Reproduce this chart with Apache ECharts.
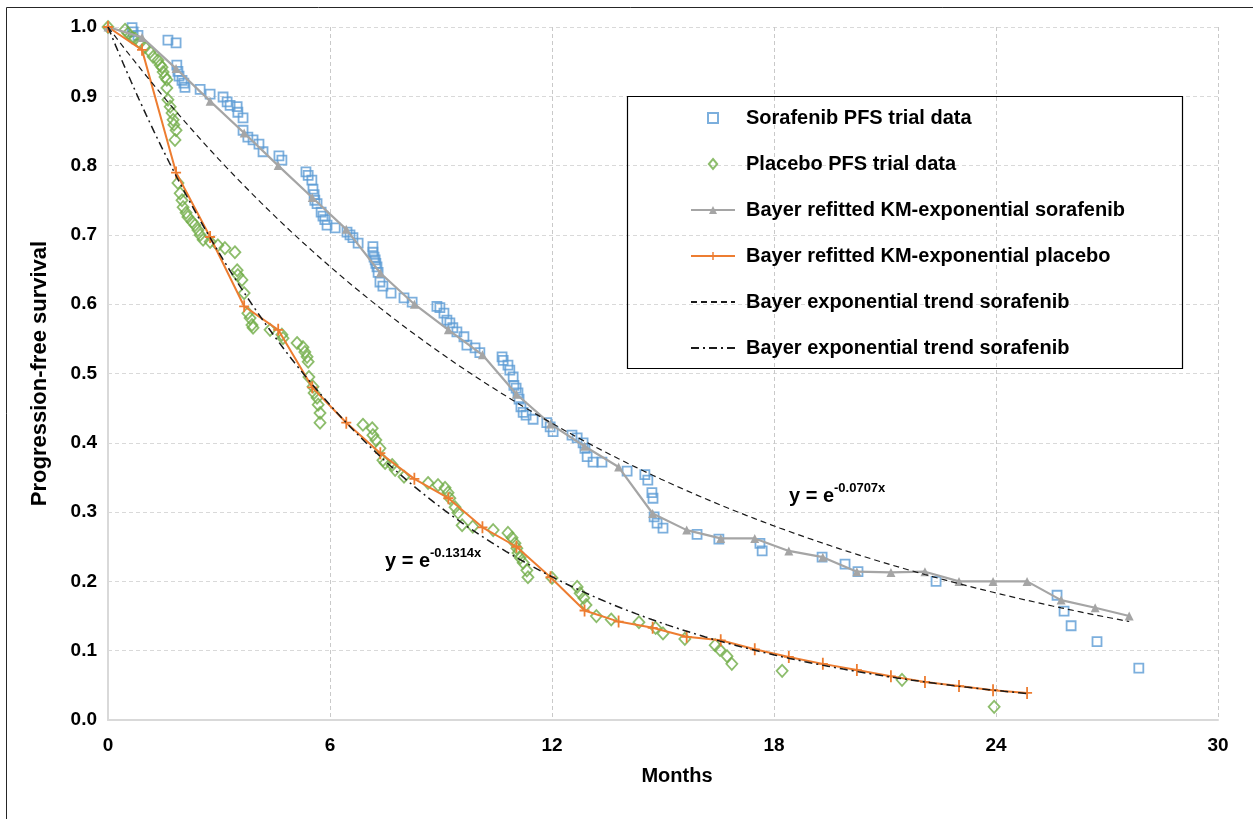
<!DOCTYPE html>
<html>
<head>
<meta charset="utf-8">
<script src="https://cdn.jsdelivr.net/npm/echarts@6/dist/echarts.min.js"></script>
<style>
  html, body { margin: 0; padding: 0; background: #fff; }
  #chart { width: 1253px; height: 819px; }
</style>
</head>
<body>
<div id="chart"></div>
<script>
// Progression-free survival: trial data, refitted KM-exponential curves and exponential trends
const FONT = '"Liberation Sans", Arial, Helvetica, sans-serif';

const legendLabels = [
  'Sorafenib PFS trial data',
  'Placebo PFS trial data',
  'Bayer refitted KM-exponential sorafenib',
  'Bayer refitted KM-exponential placebo',
  'Bayer exponential trend sorafenib',
  'Bayer exponential trend sorafenib'
];
const seriesIds = ['sorTrial', 'plaTrial', 'sorKM', 'plaKM', 'sorTrend', 'plaTrend'];

// [months, PFS]
const sorafenibTrial = [
  [0.65,0.999],[0.68,0.993],[0.81,0.988],[1.62,0.981],[1.84,0.977],
  [1.86,0.945],[1.89,0.936],[1.92,0.929],[2.0,0.923],[2.05,0.919],[2.08,0.913],
  [2.49,0.91],[2.76,0.903],
  [3.11,0.899],[3.22,0.892],[3.3,0.887],[3.49,0.885],[3.51,0.877],[3.65,0.869],
  [3.65,0.851],[3.78,0.841],[3.92,0.837],[4.08,0.831],[4.19,0.82],
  [4.62,0.814],[4.7,0.808],
  [5.35,0.791],[5.41,0.786],[5.51,0.779],[5.54,0.766],[5.57,0.758],[5.59,0.75],[5.65,0.745],
  [5.76,0.733],[5.81,0.727],[5.86,0.722],[5.92,0.714],[6.14,0.71],
  [6.46,0.704],[6.54,0.7],[6.62,0.696],[6.76,0.688],
  [7.16,0.683],[7.16,0.675],[7.19,0.668],[7.22,0.664],[7.24,0.659],[7.27,0.654],[7.3,0.646],
  [7.35,0.632],[7.43,0.626],[7.65,0.616],
  [8.0,0.609],[8.22,0.603],
  [8.89,0.597],[8.97,0.595],[9.08,0.587],[9.16,0.577],[9.24,0.573],[9.32,0.566],[9.43,0.56],
  [9.62,0.553],[9.7,0.541],[9.92,0.537],[10.05,0.53],
  [10.65,0.524],[10.68,0.519],[10.81,0.512],[10.86,0.505],[10.95,0.495],[10.97,0.483],
  [11.03,0.479],[11.08,0.472],[11.11,0.463],[11.16,0.452],[11.22,0.444],[11.3,0.44],[11.49,0.434],
  [11.86,0.429],[11.95,0.423],[12.03,0.416],
  [12.54,0.411],[12.68,0.407],[12.84,0.4],[12.89,0.392],[12.95,0.38],[13.11,0.372],[13.35,0.372],
  [14.03,0.359],[14.51,0.354],[14.59,0.346],[14.7,0.328],[14.73,0.32],[14.76,0.293],[14.84,0.284],[15.0,0.277],
  [15.92,0.268],[16.51,0.261],[17.62,0.255],[17.68,0.244],[19.3,0.235],[19.92,0.225],[20.27,0.214],[22.38,0.2],
  [25.65,0.18],[25.84,0.157],[26.03,0.136],[26.73,0.113],[27.86,0.075]
];

const placeboTrial = [
  [0,1.0],[0.46,0.996],[0.54,0.991],[0.65,0.985],[0.73,0.983],[0.86,0.977],[1.0,0.971],[1.14,0.964],
  [1.22,0.957],[1.35,0.952],[1.41,0.945],[1.46,0.942],[1.49,0.935],[1.54,0.928],[1.59,0.924],[1.59,0.912],
  [1.62,0.895],[1.68,0.885],[1.73,0.876],[1.76,0.866],[1.78,0.859],[1.84,0.851],[1.81,0.837],
  [1.89,0.775],[1.95,0.76],[2.0,0.75],[2.03,0.74],[2.11,0.732],[2.16,0.726],[2.27,0.719],[2.35,0.714],
  [2.43,0.707],[2.49,0.7],[2.57,0.693],
  [2.76,0.69],[2.97,0.685],[3.16,0.681],[3.43,0.675],
  [3.49,0.649],[3.51,0.642],[3.62,0.635],[3.68,0.616],[3.78,0.587],[3.84,0.58],[3.89,0.57],[3.92,0.566],
  [4.38,0.563],[4.7,0.556],[4.73,0.551],
  [5.11,0.544],[5.27,0.538],[5.32,0.531],[5.38,0.524],[5.41,0.517],[5.43,0.495],[5.54,0.481],[5.57,0.472],
  [5.65,0.465],[5.68,0.455],[5.73,0.443],[5.73,0.429],
  [6.89,0.426],[7.14,0.421],[7.16,0.411],[7.24,0.404],[7.35,0.392],[7.43,0.375],[7.49,0.371],[7.68,0.368],
  [7.76,0.361],[8.0,0.351],
  [8.65,0.342],[8.92,0.339],[9.11,0.335],[9.19,0.328],[9.24,0.32],[9.38,0.307],[9.46,0.299],[9.57,0.281],
  [9.86,0.279],[10.41,0.274],
  [10.81,0.27],[10.92,0.263],[11.0,0.255],[11.05,0.248],[11.08,0.241],[11.14,0.234],[11.22,0.227],
  [11.32,0.216],[11.35,0.206],
  [12.0,0.205],[12.68,0.192],[12.76,0.183],[12.86,0.176],[12.92,0.166],
  [13.2,0.15],[13.6,0.145],[14.35,0.141],[14.8,0.133],
  [15.0,0.125],[15.59,0.117],[16.41,0.108],[16.54,0.101],[16.73,0.092],[16.86,0.081],
  [18.22,0.071],[21.46,0.058],[23.95,0.019]
];

// Refitted KM-exponential curves, four-weekly points
const kmSorafenibMonths = [0,0.92,1.84,2.76,3.68,4.6,5.52,6.44,7.36,8.28,9.2,10.12,11.04,11.96,12.88,13.8,
  14.72,15.64,16.56,17.48,18.4,19.32,20.24,21.16,22.08,23.0,23.92,24.84,25.76,26.68,27.6];
const kmSorafenibPFS = [1.0,0.985,0.94,0.893,0.847,0.8,0.754,0.708,0.645,0.6,0.563,0.527,0.47,0.427,0.395,0.365,
  0.298,0.274,0.262,0.262,0.244,0.235,0.214,0.213,0.214,0.2,0.2,0.2,0.173,0.162,0.15];

const kmPlaceboMonths = [0,0.92,1.84,2.76,3.68,4.6,5.52,6.44,7.36,8.28,9.2,10.12,11.04,11.96,12.88,13.8,
  14.72,15.64,16.56,17.48,18.4,19.32,20.24,21.16,22.08,23.0,23.92,24.84];
const kmPlaceboPFS = [1.0,0.967,0.79,0.697,0.597,0.563,0.48,0.429,0.385,0.348,0.32,0.278,0.25,0.206,0.158,0.142,
  0.133,0.12,0.115,0.102,0.091,0.081,0.072,0.063,0.055,0.049,0.043,0.039];

// Exponential trend fits y = e^(-rate * x)
const trendRates = { sorafenib: 0.0707, placebo: 0.1314 };
const trendEndMonth = { sorafenib: 27.6, placebo: 24.84 };
const trendLabels = { sorafenib: '-0.0707x', placebo: '-0.1314x' };

const xTicks = [0, 6, 12, 18, 24, 30];
const yTicks = [0, 0.1, 0.2, 0.3, 0.4, 0.5, 0.6, 0.7, 0.8, 0.9, 1.0];

function zip(xs, ys) { return xs.map((x, i) => [x, ys[i]]); }
function trendCurve(rate, end) {
  const pts = [];
  const n = 120;
  for (let i = 0; i <= n; i++) {
    const x = end * i / n;
    pts.push([x, Math.exp(-rate * x)]);
  }
  return pts;
}

const BLUE = '#5b9bd5', GREEN = '#70ad47', GREY = '#a5a5a5', ORANGE = '#ed7d31';
const CLEAR = 'rgba(0,0,0,0)';
const PLUS = 'path://M4.1,0h1.8v12h-1.8z M0,5.1h10v1.8h-10z';
const SQUARE_ICON = 'path://M0,0L10,0L10,10L0,10Z';
const DIAMOND_ICON = 'path://M5,0L10,6L5,12L0,6Z';

const chart = echarts.init(document.getElementById('chart'), null, { renderer: 'canvas' });

const legendNameMap = {};
seriesIds.forEach((id, i) => { legendNameMap[id] = legendLabels[i]; });

chart.setOption({
  animation: false,
  backgroundColor: '#ffffff',
  textStyle: { fontFamily: FONT },
  grid: { left: 108, right: 35, top: 27, bottom: 99, containLabel: false },
  xAxis: {
    type: 'value',
    min: xTicks[0], max: xTicks[xTicks.length - 1], interval: 6,
    name: 'Months', nameLocation: 'middle', nameGap: 46,
    nameTextStyle: { fontFamily: FONT, fontWeight: 'bold', fontSize: 20, color: '#000', padding: [0, 0, 0, 28] },
    axisLine: { show: true, onZero: false, lineStyle: { color: '#d9d9d9', width: 2 } },
    axisTick: { show: false },
    axisLabel: { fontFamily: FONT, fontWeight: 'bold', fontSize: 19, color: '#000', margin: 16 },
    splitLine: { show: true, lineStyle: { color: '#c9c9c9', type: [4, 3], width: 1 } }
  },
  yAxis: {
    type: 'value',
    min: yTicks[0], max: yTicks[yTicks.length - 1], interval: 0.1,
    name: 'Progression-free survival', nameLocation: 'middle', nameGap: 57, nameRotate: 90,
    nameTextStyle: { fontFamily: FONT, fontWeight: 'bold', fontSize: 22, color: '#000' },
    axisLine: { show: true, lineStyle: { color: '#d9d9d9', width: 2 } },
    axisTick: { show: false },
    axisLabel: { fontFamily: FONT, fontWeight: 'bold', fontSize: 19, color: '#000', margin: 11,
      formatter: v => v.toFixed(1) },
    splitLine: { show: true, lineStyle: { color: '#d9d9d9', type: [4, 3], width: 1 } }
  },
  legend: {
    orient: 'vertical',
    left: 690, top: 108,
    padding: 0,
    itemWidth: 44, itemHeight: 10, itemGap: 26,
    symbolKeepAspect: true,
    data: [
      { name: 'sorTrial', icon: SQUARE_ICON },
      { name: 'plaTrial', icon: DIAMOND_ICON },
      { name: 'sorKM' },
      { name: 'plaKM' },
      { name: 'sorTrend' },
      { name: 'plaTrend' }
    ],
    formatter: name => legendNameMap[name],
    textStyle: { fontFamily: FONT, fontWeight: 'bold', fontSize: 20, color: '#000', lineHeight: 20,
      padding: [0, 0, 0, 6] },
    selectedMode: false
  },
  series: [
    {
      id: 'sorTrial', name: 'sorTrial', type: 'scatter', data: sorafenibTrial,
      symbol: 'rect', symbolSize: 9, symbolKeepAspect: true,
      itemStyle: { color: 'rgba(255,255,255,0)', borderColor: BLUE, borderWidth: 1.8 },
      z: 2
    },
    {
      id: 'plaTrial', name: 'plaTrial', type: 'scatter', data: placeboTrial,
      symbol: 'diamond', symbolSize: [11, 12], symbolKeepAspect: true,
      itemStyle: { color: 'rgba(255,255,255,0)', borderColor: GREEN, borderWidth: 1.8 },
      z: 2
    },
    {
      id: 'sorKM', name: 'sorKM', type: 'line', data: zip(kmSorafenibMonths, kmSorafenibPFS),
      symbol: 'triangle', symbolSize: 9, showSymbol: true,
      lineStyle: { color: GREY, width: 2.2 },
      itemStyle: { color: GREY, borderWidth: 0 },
      z: 3
    },
    {
      id: 'plaKM', name: 'plaKM', type: 'line', data: zip(kmPlaceboMonths, kmPlaceboPFS),
      symbol: PLUS, symbolSize: [10, 12], showSymbol: true,
      lineStyle: { color: ORANGE, width: 2 },
      itemStyle: { color: ORANGE, borderWidth: 0 },
      z: 3
    },
    {
      id: 'sorTrend', name: 'sorTrend', type: 'line',
      data: trendCurve(trendRates.sorafenib, trendEndMonth.sorafenib),
      symbol: 'none', smooth: false,
      lineStyle: { color: '#1a1a1a', width: 1.2, type: [6, 4] },
      itemStyle: { color: CLEAR, borderColor: CLEAR, borderWidth: 0 },
      z: 4
    },
    {
      id: 'plaTrend', name: 'plaTrend', type: 'line',
      data: trendCurve(trendRates.placebo, trendEndMonth.placebo),
      symbol: 'none', smooth: false,
      lineStyle: { color: '#1a1a1a', width: 1.5, type: [8, 4, 2, 4] },
      itemStyle: { color: CLEAR, borderColor: CLEAR, borderWidth: 0 },
      z: 4
    }
  ],
  graphic: [
    // outer frame
    { type: 'rect', shape: { x: 6.5, y: 7.5, width: 1300, height: 900 }, silent: true,
      style: { fill: 'none', stroke: '#262626', lineWidth: 1 }, z: 0 },
    // legend frame
    { type: 'rect', shape: { x: 627.5, y: 96.5, width: 555, height: 272 }, silent: true,
      style: { fill: 'none', stroke: '#000', lineWidth: 1.2 }, z: 10 },
    // trend equations
    { type: 'text', left: 385, top: 551, silent: true, z: 10,
      style: { text: 'y = e', font: 'bold 20px ' + FONT, fill: '#000' } },
    { type: 'text', left: 430, top: 547, silent: true, z: 10,
      style: { text: trendLabels.placebo, font: 'bold 13px ' + FONT, fill: '#000' } },
    { type: 'text', left: 789, top: 486, silent: true, z: 10,
      style: { text: 'y = e', font: 'bold 20px ' + FONT, fill: '#000' } },
    { type: 'text', left: 834, top: 482, silent: true, z: 10,
      style: { text: trendLabels.sorafenib, font: 'bold 13px ' + FONT, fill: '#000' } }
  ]
});
</script>
</body>
</html>
